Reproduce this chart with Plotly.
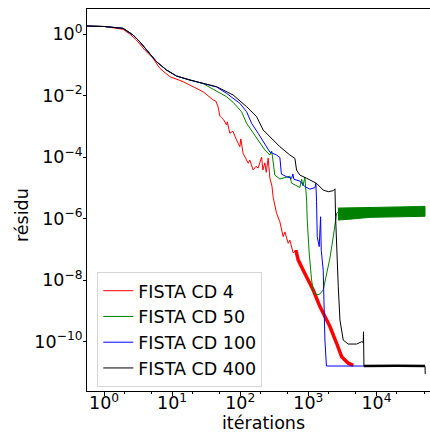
import plotly.graph_objects as go

# ---------------- data ----------------
it_cd4 = [0.562, 1.02, 1.9, 2.39, 2.99, 3.96, 5.25, 6.59, 9.25, 14.5, 20.3, 28.5, 40, 43.8, 47.3,
          50.1, 53.1, 57.4, 62.9, 64.6, 70.3, 77.9, 88.3, 98.6, 102, 106, 110, 131, 138, 155, 170,
          183, 194, 206, 215, 230, 241, 257, 268, 272, 292, 304, 341, 382, 427, 452, 506, 535, 599,
          656, 710, 840, 995, 1178, 1479, 1750, 2072, 2600, 3082, 3855, 4565]
res_cd4 = [1.82, 1.75, 1.42, 1.0, 0.638, 0.302, 0.162, 0.0767, 0.041, 0.0282, 0.0194, 0.0133, 7.2e-3,
           6.6e-3, 4.3e-3, 2.16e-3, 1.9e-3, 1.6e-3, 1.1e-3, 1.4e-3, 5.9e-4, 7.0e-4, 3.6e-4, 2.17e-4,
           3.9e-4, 1.9e-4, 1.33e-4, 6.3e-5, 8e-5, 3.8e-5, 5e-5, 4.4e-5, 6.9e-5, 1.0e-4, 3.8e-5,
           6.5e-5, 3.2e-5, 9.3e-5, 3.2e-5, 2.1e-5, 1.15e-5, 5.0e-6, 1.5e-6, 7.8e-7, 2.6e-7, 3.7e-7,
           1.58e-7, 2e-7, 7.6e-8, 9.5e-8, 4.5e-8, 2.1e-8, 1.0e-8, 4.8e-9, 1.38e-9, 6.5e-10, 3.1e-10,
           8.9e-11, 3.25e-11, 2.0e-11, 1.7e-11]

it_cd50 = [0.562, 1.02, 1.9, 2.67, 3.35, 4.43, 5.89, 8.26, 11.6, 18.2, 28.5, 40, 62.9, 78.7, 104.5,
           124, 155, 194, 230, 272, 289, 296, 322, 382, 452, 535, 567, 671, 751, 796, 832, 890, 920,
           943, 962, 1029, 1116, 1178, 1322, 1479, 1653, 1853, 2072, 2318, 2514, 2600, 2720]
res_cd50 = [1.82, 1.75, 1.53, 0.93, 0.56, 0.266, 0.126, 0.0676, 0.0431, 0.032, 0.0245, 0.016, 9.2e-3,
            6e-3, 2.98e-3, 1.25e-3, 5.9e-4, 2.8e-4, 1.7e-4, 1.17e-4, 1.58e-4, 1.1e-4, 2.6e-5, 1.94e-5,
            2.2e-5, 2.4e-5, 1.43e-5, 1.2e-5, 1.02e-5, 1.94e-5, 1.17e-5, 2.2e-5, 1.0e-5, 4.0e-6, 9.0e-7,
            7.6e-8, 1.0e-8, 4.8e-9, 3.3e-9, 3.55e-9, 4.8e-9, 1.48e-8, 5.2e-8, 2.5e-7, 9.0e-7, 1.5e-6,
            1.6e-6]
# oscillating plateau of CD 50 (upper / lower envelope)
band50_it = [2720, 4080, 8020, 22100, 51600]
band50_hi = [2.2e-6, 2.2e-6, 2.3e-6, 2.4e-6, 2.5e-6]
band50_lo = [9.0e-7, 9.6e-7, 1.1e-6, 1.15e-6, 1.19e-6]

it_cd100 = [0.562, 1.02, 1.9, 2.67, 3.35, 4.43, 5.89, 8.26, 11.6, 18.2, 28.5, 44.9, 62.9, 98.6, 124,
            147, 183, 230, 272, 341, 382, 402, 479, 567, 593, 613, 751, 890, 1054, 1250, 1290, 1320,
            1350, 1443, 1513, 1545, 1653, 1693, 1750, 1842, 51600]
res_cd100 = [1.82, 1.75, 1.53, 0.93, 0.56, 0.266, 0.126, 0.0676, 0.0431, 0.032, 0.025, 0.019, 0.0118,
             5.6e-3, 2.98e-3, 1.25e-3, 5.95e-4, 2.8e-4, 1.46e-4, 1.17e-4, 9.7e-5, 2.8e-5, 2.3e-5,
             2.04e-5, 2.8e-5, 1.9e-5, 1.66e-5, 1.09e-5, 9.1e-6, 1.02e-5, 1.41e-5, 3.55e-6, 2.57e-7,
             1.23e-7, 1.15e-6, 9.5e-8, 2.1e-8, 2.26e-9, 1.13e-10, 1.62e-11, 1.62e-11]

it_cd400 = [0.562, 1.02, 1.9, 2.67, 3.35, 4.43, 5.89, 8.26, 11.6, 18.2, 28.5, 44.9, 50.1, 78.7, 124,
            174, 217, 272, 382, 535, 634, 671, 751, 943, 1320, 1650, 1960, 2320, 2460, 2510, 2600,
            2750, 2910, 3250, 3850, 5120, 6060, 6400, 6450, 6550, 10000, 20000, 51600, 52000]
res_cd400 = [1.82, 1.75, 1.53, 0.93, 0.56, 0.266, 0.126, 0.0676, 0.0431, 0.032, 0.025, 0.0194, 0.0172,
             0.0104, 4.34e-3, 2.05e-3, 7.6e-4, 4.6e-4, 2.17e-4, 1.17e-4, 9.1e-5, 3.8e-5, 2.6e-5,
             2.05e-5, 1.4e-5, 8.5e-6, 7.5e-6, 8.1e-6, 9.3e-6, 1.15e-6, 7.4e-8, 6.1e-9, 5.1e-10,
             1.13e-10, 8.4e-11, 8.4e-11, 1.0e-10, 9.5e-11, 2.1e-10, 1.62e-11, 1.6e-11, 1.65e-11,
             1.62e-11, 8.9e-12]

labels = ["FISTA CD 4", "FISTA CD 50", "FISTA CD 100", "FISTA CD 400"]
colors = ["#ff0000", "#008000", "#0000ff", "#000000"]

x_tickvals = [1, 10, 100, 1000, 10000]
x_ticktext = ["10<sup>0</sup>", "10<sup>1</sup>", "10<sup>2</sup>", "10<sup>3</sup>", "10<sup>4</sup>"]
y_tickvals = [1, 1e-2, 1e-4, 1e-6, 1e-8, 1e-10]
y_ticktext = ["10<sup>0</sup>", "10<sup>−2</sup>", "10<sup>−4</sup>", "10<sup>−6</sup>",
              "10<sup>−8</sup>", "10<sup>−10</sup>"]

FONT = "DejaVu Sans"
FS = 17.5

# ---------------- figure ----------------
fig = go.Figure()

# overlays first (drawn underneath), without legend entries
thick = [(a, b) for a, b in zip(it_cd4, res_cd4) if a >= 650]
fig.add_trace(go.Scatter(x=[a for a, _ in thick], y=[b for _, b in thick], mode="lines",
                         showlegend=False, hoverinfo="skip",
                         line=dict(color=colors[0], width=3.5)))
fig.add_trace(go.Scatter(x=band50_it + band50_it[::-1], y=band50_hi + band50_lo[::-1],
                         mode="lines", fill="toself", fillcolor=colors[1],
                         line=dict(color=colors[1], width=1), showlegend=False, hoverinfo="skip"))

# main curves
series = [(it_cd4, res_cd4), (it_cd50, res_cd50), (it_cd100, res_cd100), (it_cd400, res_cd400)]
for (xs, ys), name, col in zip(series, labels, colors):
    fig.add_trace(go.Scatter(x=xs, y=ys, mode="lines", name=name,
                             line=dict(color=col, width=1)))

tail = [(a, b) for a, b in zip(it_cd400, res_cd400) if 6550 <= a <= 51600]
fig.add_trace(go.Scatter(x=[a for a, _ in tail], y=[b for _, b in tail], mode="lines",
                         showlegend=False, hoverinfo="skip",
                         line=dict(color=colors[3], width=2.5)))

fig.update_layout(
    width=430, height=432,
    margin=dict(l=87, r=0, t=9, b=41),
    paper_bgcolor="white", plot_bgcolor="white",
    font=dict(family=FONT, size=FS, color="black"),
    showlegend=True,
    legend=dict(x=0.03, y=0.312, xanchor="left", yanchor="top",
                bgcolor="rgba(255,255,255,0.8)", bordercolor="#d6d6d6", borderwidth=1,
                font=dict(family=FONT, size=FS, color="black"),
                itemwidth=30),
    xaxis=dict(type="log", range=[-0.25, 4.786], showline=True, linecolor="black", linewidth=1,
               mirror=True, ticks="outside", ticklen=4, tickcolor="black",
               tickvals=x_tickvals, ticktext=x_ticktext, showgrid=False, zeroline=False,
               ticklabelstandoff=-8,
               tickfont=dict(family=FONT, size=FS, color="black"),
               minor=dict(ticks="outside", ticklen=2, tickcolor="black", showgrid=False)),
    yaxis=dict(type="log", range=[-11.602, 0.8125], showline=True, linecolor="black", linewidth=1,
               ticks="outside", ticklen=3, tickcolor="black",
               tickvals=y_tickvals, ticktext=y_ticktext, showgrid=False, zeroline=False,
               ticklabelstandoff=-3,
               tickfont=dict(family=FONT, size=FS, color="black")),
    annotations=[
        dict(text="itérations", xref="paper", yref="paper", x=0.516, y=-0.083,
             xanchor="center", yanchor="middle", showarrow=False,
             font=dict(family=FONT, size=FS, color="black")),
        dict(text="résidu", xref="paper", yref="paper", x=-0.1895, y=0.4607, textangle=-90,
             xanchor="center", yanchor="middle", showarrow=False,
             font=dict(family=FONT, size=FS, color="black")),
    ],
)

fig.write_html("out.html")
